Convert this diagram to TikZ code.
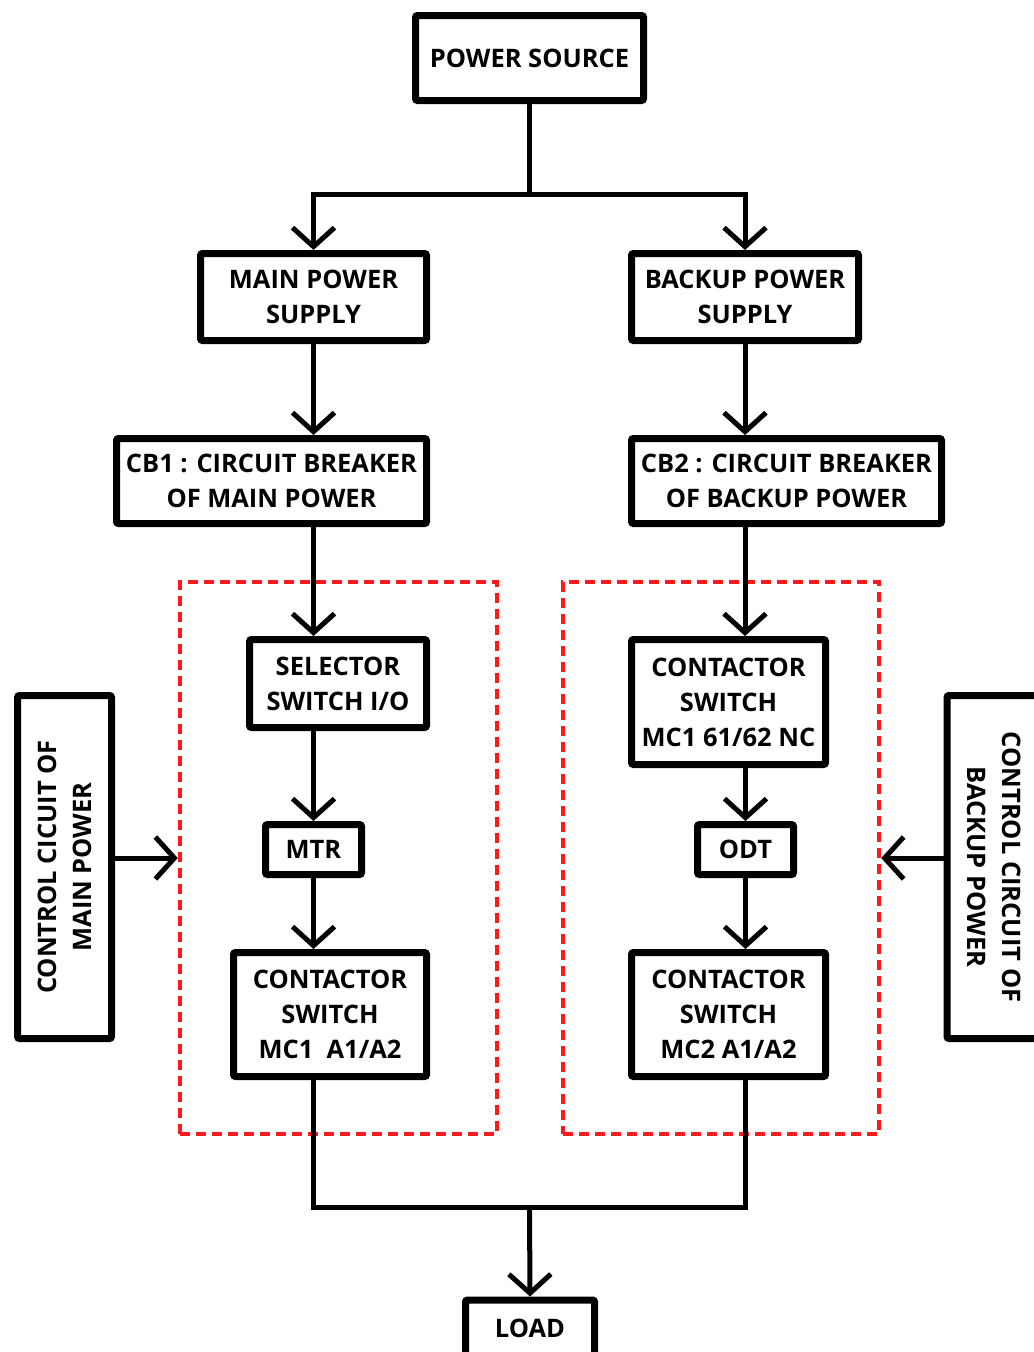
\documentclass[tikz,border=0pt]{standalone}
\usepackage{fontspec}
\setmainfont{Open Sans}
\usetikzlibrary{arrows.meta,calc}
\newlength\pxu
\setlength\pxu{0.02cm}
\tikzset{
  blk/.style={draw, line width=7\pxu, rounded corners=2\pxu, align=center, inner sep=0pt,
    font=\bfseries\fontsize{14.5pt}{19.9pt}\selectfont},
  grp/.style={draw=red!90!white, line width=4.5\pxu, dash pattern=on 10\pxu off 6\pxu, inner sep=0pt},
  conn/.style={line width=5\pxu},
  arr/.style={conn, -{Straight Barb[length=0.38cm, width=0.84cm]}},
}
\begin{document}
\begin{tikzpicture}[x=0.02cm, y=-0.02cm]
\useasboundingbox (0,0) rectangle (1034,1352);
% groups
\node[grp, minimum width=317\pxu, minimum height=552\pxu] (g1) at (338.5,858) {};
\node[grp, minimum width=316\pxu, minimum height=552\pxu] (g2) at (721,858) {};
% boxes
\node[blk, minimum width=228\pxu, minimum height=85\pxu] (ps) at (529.5,58) {POWER SOURCE};
\node[blk, minimum width=226\pxu, minimum height=87\pxu] (mps) at (313.5,297) {MAIN POWER\\SUPPLY};
\node[blk, minimum width=227\pxu, minimum height=87\pxu] (bps) at (745,297) {BACKUP POWER\\SUPPLY};
\node[blk, minimum width=310\pxu, minimum height=85\pxu] (cb1) at (271.5,481) {CB1 : CIRCUIT BREAKER\\OF MAIN POWER};
\node[blk, minimum width=310\pxu, minimum height=85\pxu] (cb2) at (786.5,481) {CB2 : CIRCUIT BREAKER\\OF BACKUP POWER};
\node[blk, minimum width=177\pxu, minimum height=88\pxu] (sel) at (338,683.5) {SELECTOR\\SWITCH I/O};
\node[blk, minimum width=96\pxu, minimum height=50\pxu] (mtr) at (313.5,849.5) {MTR};
\node[blk, minimum width=193\pxu, minimum height=124\pxu] (mc1) at (330,1014.5) {CONTACTOR\\SWITCH\\MC1\ \ A1/A2};
\node[blk, minimum width=194\pxu, minimum height=125\pxu] (rc) at (728.5,702) {CONTACTOR\\SWITCH\\MC1 61/62 NC};
\node[blk, minimum width=96\pxu, minimum height=50\pxu] (odt) at (745.5,849.5) {ODT};
\node[blk, minimum width=194\pxu, minimum height=124\pxu] (mc2) at (728.5,1014.5) {CONTACTOR\\SWITCH\\MC2 A1/A2};
\node[blk, rotate=90, minimum width=343\pxu, minimum height=94\pxu] (ctl) at (64.5,867) {CONTROL CICUIT OF\\MAIN POWER};
\node[blk, rotate=-90, minimum width=343\pxu, minimum height=94\pxu] (ctr) at (994,867) {CONTROL CIRCUIT OF\\BACKUP POWER};
\node[blk, minimum width=129\pxu, minimum height=56\pxu] (load) at (530,1328) {LOAD};
% connectors
\coordinate (top) at (529.5,194);
\coordinate (bot) at (529.5,1207);
\draw[conn] (ps.south) -- (top);
\draw[arr] (top) -| (mps.north);
\draw[arr] (top) -| (bps.north);
\draw[arr] (mps.south) -- (mps.south |- cb1.north);
\draw[arr] (bps.south) -- (bps.south |- cb2.north);
\draw[arr] (cb1.south -| mps) -- (sel.north -| mps);
\draw[arr] (sel.south -| mps) -- (mtr.north);
\draw[arr] (mtr.south) -- (mc1.north -| mtr);
\draw[arr] (cb2.south -| bps) -- (rc.north -| bps);
\draw[arr] (rc.south -| odt) -- (odt.north);
\draw[arr] (odt.south) -- (mc2.north -| odt);
\draw[conn] (mc1.south -| mtr) |- (bot);
\draw[conn] (mc2.south -| odt) |- (bot);
\draw[arr] (bot) -- (load.north);
\draw[arr] ($(ctl.south)+(0,-9)$) -- ($(ctl.south -| g1.west)+(0,-9)$);
\draw[arr] ($(ctr.south)+(0,-9)$) -- ($(ctr.south -| g2.east)+(0,-9)$);
\end{tikzpicture}
\end{document}
